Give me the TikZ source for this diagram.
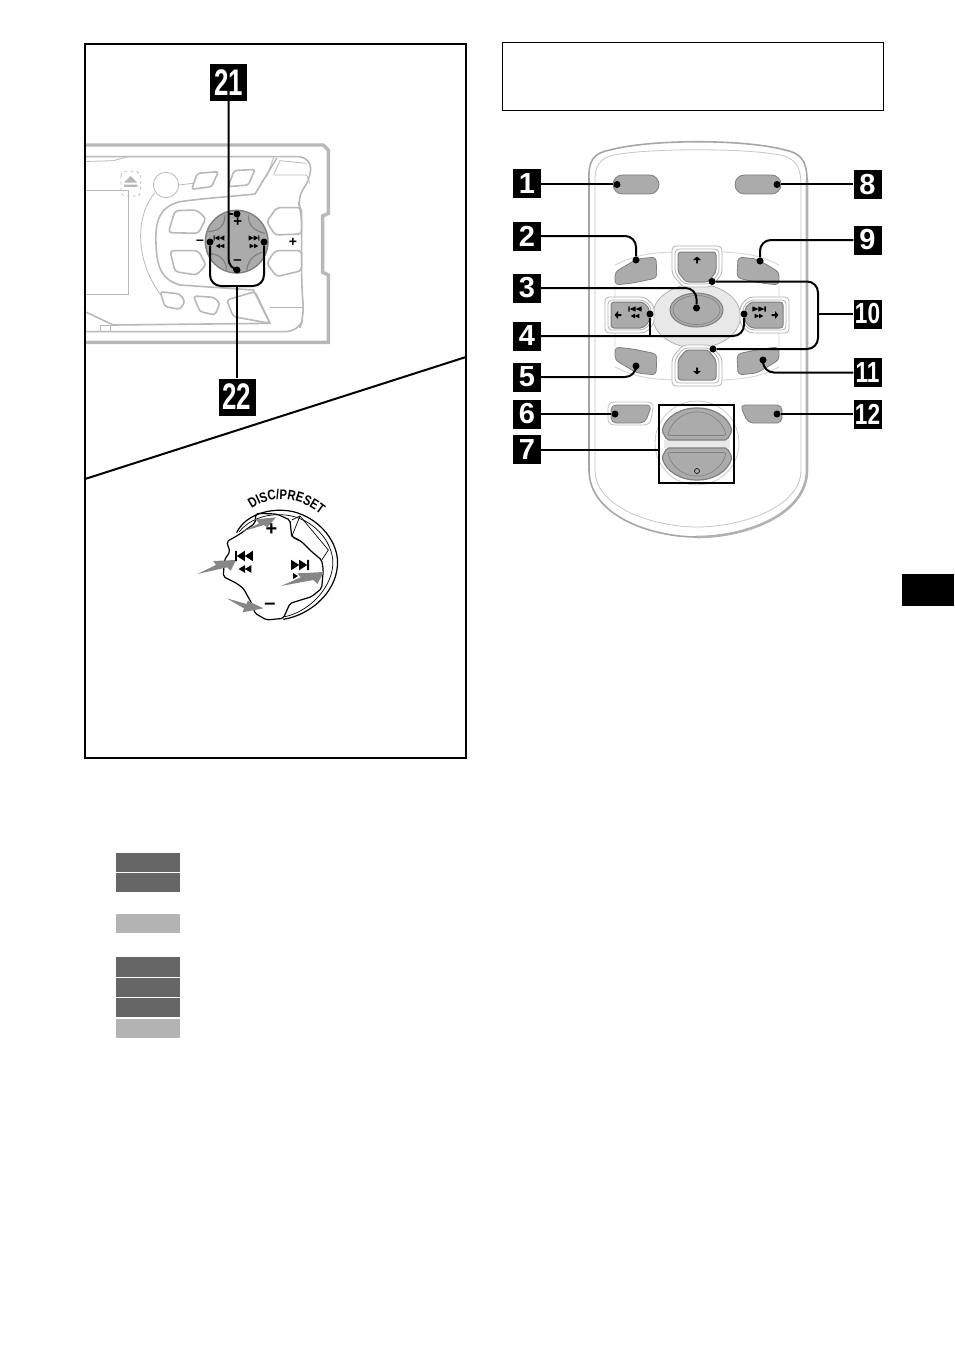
\documentclass[tikz,border=0pt]{standalone}
\usepackage{fontspec}
\setmainfont{Liberation Sans}
\newfontfamily\discfont[FakeStretch=0.8]{Liberation Sans}
\usetikzlibrary{decorations.text}

\definecolor{btngray}{HTML}{ABABAB}
\definecolor{btnedge}{HTML}{7F7F7F}
\definecolor{devgray}{HTML}{B8B8B8}
\definecolor{palegray}{HTML}{E8E8E8}
\definecolor{bardark}{HTML}{666666}
\definecolor{barlight}{HTML}{B3B3B3}

\tikzset{
    badge/.style={fill=black,text=white,inner sep=0pt,minimum width=28pt,minimum height=29pt,
        font=\bfseries\fontsize{29}{29}\selectfont},
    bigbadge/.style={badge,minimum width=37pt,minimum height=37pt,font=\bfseries\fontsize{37}{37}\selectfont},
    dot/.style={circle,fill=black,inner sep=0pt,minimum size=7pt},
    lead/.style={line width=2pt,black,rounded corners=11pt},
    btn/.style={fill=btngray,draw=btnedge,line width=0.8pt},
    devline/.style={draw=devgray,line width=1.6pt},
    devthin/.style={draw=devgray,line width=0.8pt},
    bodyline/.style={draw=#1,line width=0.8pt},
    bar/.style={inner sep=0pt,minimum width=64pt,minimum height=19.5pt},
    graywedge/.style={fill=gray!95,draw=none}
}

\newcommand{\skipmark}[4]{\fill[shift={(#1,#2)},xscale=#3,yscale=#4] (-4.4,-2.6)--(-0.4,0)--(-4.4,2.6)--cycle (-0.4,-2.6)--(3.6,0)--(-0.4,2.6)--cycle (3.6,-2.6) rectangle (4.5,2.6);}
\newcommand{\seekmark}[4]{\fill[shift={(#1,#2)},xscale=#3,yscale=#4] (-4,-2.3)--(0,0)--(-4,2.3)--cycle (0,-2.3)--(4,0)--(0,2.3)--cycle;}
\newcommand{\dirmark}[3]{\fill[shift={(#1,#2)},rotate=#3] (-4,0)--(0,-3.4)--(4,0)--(1,0)--(1,3.4)--(-1,3.4)--(-1,0)--cycle;}
\newcommand{\tnum}[1]{\scalebox{.78}[1]{#1}}
\newcommand{\bnum}[1]{\scalebox{.7}[1]{#1}}

\begin{document}
\begin{tikzpicture}[x=1pt,y=-1pt]
    \useasboundingbox (0,0) rectangle (954,1351);

    % car unit
    \begin{scope}
    \clip (86,100) rectangle (340,360);
    \begin{scope}[shift={(80,40)},scale=1/3]
        \draw[devline,line width=3.4pt] (0,315) -- (730,315) -- (745,330) -- (745,520) -- (728,528) -- (728,697) -- (745,705) -- (745,907) -- (0,907);
        \draw[devline,rounded corners=12pt] (0,350) -- (692,350) -- (692,420) -- (650,470) -- (665,520) -- (665,735) -- (672,830) -- (655,875) -- (0,875);
        \draw[devthin] (0,365) -- (100,362) -- (145,350);
        \draw[devline] (590,355) -- (525,462) .. controls (450,470) and (370,475) .. (300,485) .. controls (240,500) and (225,540) .. (228,610) .. controls (230,690) and (250,720) .. (300,735) -- (520,750) -- (570,850) -- (100,855) -- (15,815);
        \draw[devthin] (582,350) -- (560,410) (580,405) -- (680,405) -- (690,430) (680,370) -- (600,362) -- (582,402);
        \draw[devthin] (258,435) circle (38);
        \draw[devthin] (225,458) .. controls (170,520) and (160,650) .. (240,762) (296,435) -- (340,430);
        \draw[devthin] (110,855) -- (60,855) -- (60,875) (90,855) -- (90,875) (570,802) -- (668,802);
        % small keys
        \draw[devline,rounded corners=2.5pt] (352,400) -- (415,395) -- (395,440) -- (335,448) -- cycle;
        \draw[devline,rounded corners=2.5pt] (462,392) -- (525,388) -- (505,435) -- (445,440) -- cycle;
        \draw[devline,rounded corners=3.5pt] (285,512) -- (350,510) -- (378,535) -- (355,580) -- (265,578) -- cycle;
        \draw[devline,rounded corners=3.5pt] (270,632) -- (355,632) -- (378,675) -- (350,705) -- (285,695) -- cycle;
        \draw[devline,rounded corners=3.5pt] (590,503) -- (665,503) -- (665,582) -- (585,585) -- (560,545) -- cycle;
        \draw[devline,rounded corners=3.5pt] (585,632) -- (665,632) -- (665,692) -- (590,710) -- (560,670) -- cycle;
        \draw[devline,rounded corners=3pt] (240,755) -- (300,762) -- (315,785) -- (300,808) -- (255,800) -- cycle;
        \draw[devline,rounded corners=3pt] (340,768) -- (402,772) -- (420,790) -- (405,825) -- (360,815) -- cycle;
        \draw[devline,rounded corners=3pt] (440,780) -- (525,755) -- (570,850) -- (460,830) -- cycle;
        % eject key and display
        \draw[devthin,dashed,rounded corners=4pt] (123,395) rectangle (182,468);
        \fill[devgray] (132,428) -- (152,408) -- (172,428) -- cycle (132,434) rectangle (172,441);
        \draw[devthin] (0,450) -- (146,450) -- (146,763) -- (0,763);
        % dial
        \draw[fill=btngray,draw=btnedge,line width=1.4pt] (470,605) circle (94);
        \draw[btnedge,line width=1.2pt] (385,575) .. controls (420,572) and (435,555) .. (435,525) (505,525) .. controls (505,555) and (520,572) .. (555,580) (385,640) .. controls (420,642) and (438,660) .. (440,690) (500,690) .. controls (505,660) and (520,642) .. (555,635);
    \end{scope}
    \end{scope}

    \skipmark{219}{238}{-1.2}{1}
    \seekmark{220}{246}{-1.1}{1}
    \skipmark{254}{238}{1.2}{1}
    \seekmark{254}{246}{1.1}{1}
    \node[inner sep=0pt,font=\bfseries\fontsize{15}{15}\selectfont] (dialplus) at (237.7,222) {+};
    \node[inner sep=0pt,font=\bfseries\fontsize{15}{15}\selectfont] (dialminus) at (237.5,262) {–};
    \node[inner sep=0pt,font=\bfseries\fontsize{14}{14}\selectfont] (outerminus) at (200,242) {–};
    \node[inner sep=0pt,font=\bfseries\fontsize{14}{14}\selectfont] (outerplus) at (293,242) {+};

    % panels
    \draw[line width=2pt] (85,44) rectangle (466,758);
    \draw[line width=0.8pt] (502.5,42.5) rectangle (883.5,110);
    \draw[line width=2pt] (85,479) -- (466,357);
    \fill (902,574) rectangle (954,606);

    % control dial
    \begin{scope}[shift={(180,480)},scale=1/3]
        \draw[line width=1.2pt] (170,158) .. controls (195,105) and (270,80) .. (340,95) .. controls (420,115) and (480,190) .. (472,260) .. controls (465,340) and (390,405) .. (310,418);
        \draw[line width=0.7pt] (178,155) .. controls (210,115) and (270,95) .. (335,108) .. controls (410,125) and (465,195) .. (458,260) .. controls (450,330) and (385,395) .. (315,410);
        \draw[line width=1.2pt,rounded corners=2pt] (228,100) -- (225,130) -- (175,165) -- (140,185) -- (150,215) -- (133,240) -- (130,290) -- (170,310) -- (190,325) -- (215,370) -- (225,400) -- (260,420) -- (310,415) -- (330,370) -- (395,350) -- (425,325) -- (430,270) -- (425,240) -- (395,215) -- (365,185) -- (335,170) -- (330,120) -- (290,102) -- cycle;
        \draw[line width=0.7pt] (335,120) -- (360,108) -- (445,210) -- (425,240) (365,185) -- (340,170) (360,108) -- (335,170);
        \fill[graywedge] (185,155) -- (238,130) -- (225,118) -- (288,112) -- (262,142) -- (252,135) -- cycle;
        \fill[graywedge] (52,282) -- (108,255) -- (100,243) -- (168,240) -- (152,272) -- (142,262) -- cycle;
        \fill[graywedge] (303,318) -- (362,292) -- (352,280) -- (432,276) -- (412,312) -- (400,300) -- cycle;
        \fill[graywedge] (140,355) -- (200,372) -- (203,362) -- (250,385) -- (188,397) -- (192,385) -- cycle;
        \path[decorate,decoration={text along path,text align=center,raise=0pt,
            text={|\discfont\bfseries\fontsize{14}{14}\selectfont|DISC/PRESET}}] (212,88) .. controls (270,45) and (350,45) .. (425,105);
    \end{scope}
    \node[inner sep=0pt,font=\bfseries\fontsize{20}{20}\selectfont] (knobplus) at (271.5,530) {+};
    \node[inner sep=0pt,font=\bfseries\fontsize{20}{20}\selectfont] (knobminus) at (270,606.5) {–};
    \skipmark{244}{556}{-2}{2}
    \seekmark{245}{569}{-1.6}{1.7}
    \skipmark{300}{565}{2}{2}
    \fill (293,573) -- (298,576) -- (293,579) -- cycle;

    % remote body
    \draw[draw=gray!70,line width=1.6pt,fill=white] (589,180) .. controls (588,160) and (594,153) .. (610,150) .. controls (650,139) and (745,139) .. (785,150) .. controls (800,153) and (807,160) .. (807,180) -- (807,470) .. controls (807,515) and (745,537) .. (697,537) .. controls (650,537) and (589,515) .. (589,470) -- cycle;
    \draw[draw=gray!60,line width=2.6pt] (807,180) -- (807,470) .. controls (807,515) and (745,537) .. (697,537);
    \draw[bodyline=gray!45] (595,185) .. controls (594,165) and (600,158) .. (614,155) .. controls (650,148) and (745,148) .. (780,155) .. controls (794,158) and (801,165) .. (801,185) -- (801,470) .. controls (801,508) and (740,527) .. (697,527) .. controls (655,527) and (595,508) .. (595,470) -- cycle;
    \draw[bodyline=gray!35] (615,265) .. controls (635,255) and (650,253) .. (672,252) (722,252) .. controls (745,253) and (760,255) .. (779,265) (615,367) .. controls (635,377) and (650,379) .. (672,380) (722,380) .. controls (745,379) and (760,377) .. (779,367) (615,285) -- (615,347) (779,285) -- (779,347);

    % top keys
    \draw[btn,rounded corners=9.5pt] (613,175) rectangle (659,194);
    \draw[btn,rounded corners=9.5pt] (735,175) rectangle (781,194);

    % wing keys and cross keys
    \foreach \sx/\tx in {1/0,-1/1394}{
        \foreach \sy/\ty in {1/0,-1/632}{
            \begin{scope}[shift={(\tx,\ty)},xscale=\sx,yscale=\sy]
                \draw[btn,rounded corners=4pt] (615,272) -- (637,259) -- (656,257) -- (657,278) -- (633,283) -- (615,285) -- cycle;
            \end{scope}
        }
    }
    \draw[fill=palegray,draw=gray!60,line width=0.8pt] (696.5,316) ellipse (44 and 32);
    \foreach \sy/\ty in {1/0,-1/632}{
        \begin{scope}[shift={(0,\ty)},yscale=\sy]
            \draw[bodyline=gray!60,fill=white,rounded corners=4pt] (672,246) -- (722,246) -- (722,274) -- (711,287) -- (683,287) -- (672,274) -- cycle;
            \draw[bodyline=gray!60,fill=white,rounded corners=4pt] (675,249) -- (719,249) -- (719,273) -- (710,284) -- (684,284) -- (675,273) -- cycle;
            \draw[btn,line width=1pt,rounded corners=3pt] (678,252) -- (716,252) -- (716,272) -- (708,282) -- (686,282) -- (678,272) -- cycle;
        \end{scope}
    }
    \foreach \sx/\tx in {1/0,-1/1394}{
        \begin{scope}[shift={(\tx,0)},xscale=\sx]
            \draw[bodyline=gray!60,fill=white,rounded corners=4pt] (605,297) -- (645,297) -- (654,306) -- (654,324) -- (645,333) -- (605,333) -- cycle;
            \draw[bodyline=gray!60,fill=white,rounded corners=4pt] (608,300) -- (644,300) -- (651,307) -- (651,323) -- (644,330) -- (608,330) -- cycle;
            \draw[btn,line width=1pt,rounded corners=3pt] (611,302) -- (643,302) -- (649,308) -- (649,322) -- (643,328) -- (611,328) -- cycle;
        \end{scope}
    }
    \draw[btn,line width=1pt] (696.5,310) ellipse (26.5 and 17);
    \draw[draw=btnedge,line width=0.6pt] (696.5,310) ellipse (23.5 and 14.5);
    \dirmark{697}{260}{0}
    \dirmark{697}{371}{180}
    \dirmark{618}{315}{90}
    \dirmark{775}{315}{-90}
    \skipmark{635}{309}{-1.5}{1}
    \seekmark{635}{316}{-1.1}{1}
    \skipmark{759}{309}{1.5}{1}
    \seekmark{759}{316}{1.1}{1}

    % lower keys
    \draw[bodyline=gray!50,rounded corners=6pt] (608,402) -- (654,402) -- (650,425) -- (608,425) -- cycle;
    \draw[btn,rounded corners=5pt] (611,405) -- (652,405) -- (645,423) -- (611,423) -- cycle;
    \draw[btn,rounded corners=5pt] (740,405) -- (782,405) -- (782,423) -- (748,423) -- cycle;
    \draw[bodyline=gray!40] (697,443) circle (42);
    \fill[palegray] (664,440) rectangle (730,448);
    \draw[btn,line width=1.2pt,rounded corners=2pt] (667,440) -- (662,431) .. controls (666,416) and (682,408) .. (697,408) .. controls (712,408) and (728,416) .. (732,431) -- (727,440) -- cycle;
    \draw[btn,line width=1.2pt,rounded corners=2pt] (667,448) -- (662,457) .. controls (666,472) and (682,480) .. (697,480) .. controls (712,480) and (728,472) .. (732,457) -- (727,448) -- cycle;
    \draw[draw=btnedge,line width=0.6pt,rounded corners=2pt] (668,435.5) .. controls (671,421) and (685,412) .. (697,412) .. controls (709,412) and (723,421) .. (726,435.5) -- cycle;
    \draw[draw=btnedge,line width=0.6pt,rounded corners=2pt] (668,452.5) .. controls (671,467) and (685,476) .. (697,476) .. controls (709,476) and (723,467) .. (726,452.5) -- cycle;
    \draw[line width=0.6pt] (697,471) circle (2.5);
    \node[draw,line width=2pt,inner sep=0pt,minimum width=75pt,minimum height=78pt] (boxseven) at (696.5,443.5) {};

    % badges on the left
    \node[badge] (b1) at (527,183.5) {1};
    \node[badge] (b2) at (527,236) {2};
    \node[badge] (b3) at (527,288) {3};
    \node[badge] (b4) at (527,336) {4};
    \node[badge] (b5) at (527,377) {5};
    \node[badge] (b6) at (527,414) {6};
    \node[badge] (b7) at (527,449.5) {7};
    % badges on the right
    \node[badge] (b8) at (867.5,184.5) {8};
    \node[badge] (b9) at (867.5,240) {9};
    \node[badge] (b10) at (867.5,314) {\tnum{10}};
    \node[badge] (b11) at (867.5,372.5) {\tnum{11}};
    \node[badge] (b12) at (867.5,414) {\tnum{12}};
    \node[bigbadge] (b21) at (228.5,82.5) {\bnum{21}};
    \node[bigbadge] (b22) at (237,397) {\bnum{22}};

    \node[dot] (d1) at (617,184.5) {};
    \node[dot] (d2) at (636,260) {};
    \node[dot] (d3) at (696.5,308) {};
    \node[dot] (d4a) at (650,314) {};
    \node[dot] (d4b) at (744,314) {};
    \node[dot] (d5) at (636,366) {};
    \node[dot] (d6) at (615,414) {};
    \node[dot] (d8) at (777,184.5) {};
    \node[dot] (d9) at (760,261) {};
    \node[dot] (d10a) at (712,281.5) {};
    \node[dot] (d10b) at (713,349) {};
    \node[dot] (d11) at (763,360) {};
    \node[dot] (d12) at (777,414) {};
    \node[dot] (d21a) at (237,214) {};
    \node[dot] (d21b) at (237,270) {};
    \node[dot] (d22a) at (210,242) {};
    \node[dot] (d22b) at (264,242) {};
    \coordinate (c4) at (650,336);
    \coordinate (c10) at (818,314);
    \coordinate (c21) at (228.5,214);
    \coordinate (c22) at (237,286);

    \draw[lead] (b1.east |- d1) -- (d1);
    \draw[lead] (b2.east) -| (d2);
    \draw[lead] (b3.east) -| (d3);
    \draw[lead] (b4.east) -| (d4b);
    \draw[lead] (d4a) -- (c4);
    \draw[lead] (b5.east) -| (d5);
    \draw[lead] (b6.east) -- (d6);
    \draw[lead] (b7.east) -- (b7.east -| boxseven.west);
    \draw[lead] (b8.west) -- (d8);
    \draw[lead] (b9.west) -| (d9);
    \draw[lead] (b10.west) -- (c10);
    \draw[lead] (d10a) -| (c10) |- (d10b);
    \draw[lead] (b11.west) -| (d11);
    \draw[lead] (b12.west) -- (d12);
    \draw[lead] (b21.south) |- (d21b);
    \draw[lead] (c21) -- (d21a);
    \draw[lead] (b22.north) -- (c22);
    \draw[lead] (d22a) |- (c22) -| (d22b);

    % grey bars below
    \node[bar,fill=bardark] (bara) at (148,862.5) {};
    \node[bar,fill=bardark] (barb) at (148,882.5) {};
    \node[bar,fill=barlight] (barc) at (148,923.5) {};
    \node[bar,fill=bardark] (bard) at (148,967) {};
    \node[bar,fill=bardark] (bare) at (148,987.5) {};
    \node[bar,fill=bardark] (barf) at (148,1007.5) {};
    \node[bar,fill=barlight] (barg) at (148,1028.5) {};
\end{tikzpicture}
\end{document}
